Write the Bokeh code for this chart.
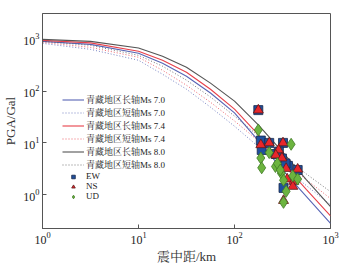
from bokeh.plotting import figure
from bokeh.models import Legend, LegendItem, Range1d
from bokeh.embed import file_html
from bokeh.resources import INLINE

# distances (km) at which the attenuation curves were read
dist = [1, 3.16, 10, 17.8, 31.6, 56.2, 100, 178, 316, 562, 1000]
long_70 = [916, 801, 538, 345, 194, 92, 38, 10.9, 3.0, 0.92, 0.28]
short_70 = [838, 642, 395, 212, 109, 49, 21, 8.4, 3.5, 1.49, 0.64]
long_74 = [957, 857, 588, 395, 232, 109, 45, 14.3, 4.1, 1.25, 0.39]
short_74 = [876, 702, 451, 253, 130, 61, 26.5, 10.9, 4.5, 1.94, 0.84]
long_80 = [1000, 916, 680, 471, 290, 143, 64, 22, 6.7, 1.94, 0.59]
short_80 = [916, 767, 492, 303, 163, 77, 33, 13.6, 5.9, 2.5, 1.14]

curve_labels = ["青藏地区长轴Ms 7.0", "青藏地区短轴Ms 7.0",
                "青藏地区长轴Ms 7.4", "青藏地区短轴Ms 7.4",
                "青藏地区长轴Ms 8.0", "青藏地区短轴Ms 8.0"]

# observed PGA
ew_r = [177, 188, 192, 230, 320, 269, 312, 360, 455, 324, 290, 340]
ew_pga = [43, 11.1, 7.3, 10, 10, 6.1, 5.0, 3.6, 3.0, 1.35, 6.8, 4.0]
ns_r = [177, 188, 230, 320, 288, 269, 312, 354, 414, 405, 455, 324, 345]
ns_pga = [43, 9.2, 10, 10, 7.3, 5.8, 5.1, 2.0, 1.8, 1.44, 3.1, 0.77, 3.2]
ud_r = [177, 188, 192, 230, 389, 267, 280, 307, 405, 455, 324, 345, 324, 300]
ud_pga = [17.8, 5.1, 3.3, 6.5, 9.4, 3.5, 4.0, 2.6, 2.3, 2.0, 1.9, 1.16, 0.71, 3.0]

SERIF = "Liberation Serif, Noto Serif CJK SC, Noto Sans CJK SC"

p = figure(width=356, height=266, x_axis_type="log", y_axis_type="log",
           output_backend="svg", toolbar_location=None,
           x_range=Range1d(1, 1000), y_range=Range1d(0.222, 3162),
           min_border_left=37, min_border_right=26, min_border_top=13,
           min_border_bottom=37)
p.background_fill_color = "white"
p.border_fill_color = "white"
p.grid.visible = False
p.outline_line_color = "#555555"
p.outline_line_width = 1

for ax in (p.xaxis[0], p.yaxis[0]):
    ax.major_tick_in = 4
    ax.major_tick_out = 0
    ax.minor_tick_in = 0
    ax.minor_tick_out = 0
    ax.axis_line_color = "#555555"
    ax.major_tick_line_color = "#555555"
    ax.major_label_text_font = SERIF
    ax.major_label_text_font_size = "12px"
    ax.major_label_text_color = "#222222"
    ax.axis_label_text_font = SERIF
    ax.axis_label_text_font_size = "13px"
    ax.axis_label_text_font_style = "normal"
    ax.axis_label_text_color = "#333333"
    ax.major_label_standoff = 3
p.xaxis.axis_label = "震中距/km"
p.yaxis.axis_label = "PGA/Gal"
p.xaxis.axis_label_standoff = 2
p.yaxis.axis_label_standoff = 2
p.xaxis.ticker.desired_num_ticks = 4
p.yaxis.ticker.desired_num_ticks = 5

BLUE = "#5865b5"
RED = "#e8404a"
GRAY = "#555555"
styles = [(long_70, BLUE, "solid"), (short_70, BLUE, "1 2"),
          (long_74, RED, "solid"), (short_74, RED, "1 2"),
          (long_80, GRAY, "solid"), (short_80, GRAY, "1 2")]
items = []
for (vals, col, dash), lab in zip(styles, curve_labels):
    r = p.line(dist, vals, line_color=col, line_width=1.1 if dash == "solid" else 1.0,
               line_dash=dash, line_alpha=1.0 if dash == "solid" else 0.8)
    items.append(LegendItem(label=lab, renderers=[r]))

r_ew = p.scatter(ew_r, ew_pga, marker="square", size=9, fill_color="#1f4f9e",
                 line_color="#1a2a4a", line_width=0.8)
r_ns = p.scatter(ns_r, ns_pga, marker="triangle", size=10, fill_color="#e8262b",
                 line_color="#5a1a1a", line_width=0.8)
r_ud = p.scatter(ud_r, ud_pga, marker="diamond", size=12, fill_color="#6cb43f",
                 line_color="#3f7a25", line_width=0.8)
items += [LegendItem(label="EW", renderers=[r_ew]),
          LegendItem(label="NS", renderers=[r_ns]),
          LegendItem(label="UD", renderers=[r_ud])]

legend = Legend(items=items, location=(18, 25), orientation="vertical",
                glyph_width=22, glyph_height=9, label_height=9,
                label_standoff=2, spacing=0, padding=2, margin=0,
                label_text_font=SERIF, label_text_font_size="9px",
                label_text_line_height=0.9,
                label_text_color="#222222",
                background_fill_alpha=0, border_line_alpha=0)
p.add_layout(legend)

open("out.html", "w").write(file_html(p, INLINE))
